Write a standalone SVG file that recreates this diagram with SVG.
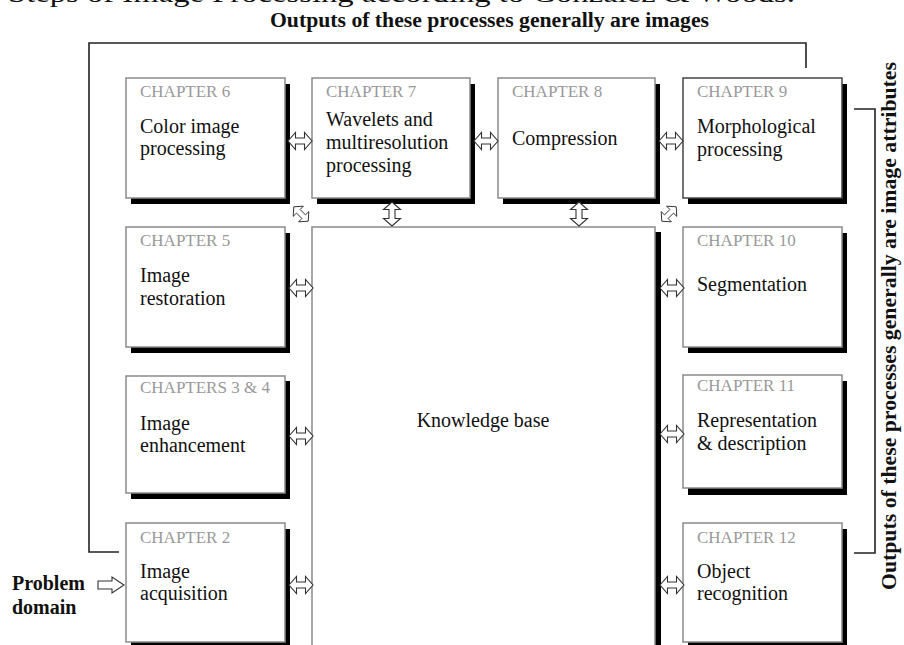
<svg xmlns="http://www.w3.org/2000/svg" xmlns:xlink="http://www.w3.org/1999/xlink" width="904" height="645" viewBox="0 0 904 645">
<style>
  text { font-family: "Liberation Serif", "Times New Roman", serif; }
  .box { fill: #ffffff; stroke: #8a8a8a; stroke-width: 1.5; }
  .shadow { fill: #000000; }
  .chap { font-size: 17px; fill: #999999; }
  .lbl { font-size: 20px; fill: #111111; }
  .bold { font-weight: bold; fill: #111111; }
  .line { fill: none; stroke: #222222; stroke-width: 1.6; }
  .arr { fill: #ffffff; stroke: #333333; stroke-width: 1.1; stroke-linejoin: miter; }
</style>
<defs>
  <path id="dbl" class="arr" d="M-12,0 L-4.5,-8.5 L-4.5,-3 L4.5,-3 L4.5,-8.5 L12,0 L4.5,8.5 L4.5,3 L-4.5,3 L-4.5,8.5 Z"/>
</defs>
<rect width="904" height="645" fill="#ffffff"/>

<text x="8" y="2" font-size="26" fill="#111111" textLength="787" lengthAdjust="spacingAndGlyphs">Steps of Image Processing according to Gonzalez &amp; Woods.</text>
<text class="bold" x="270" y="27" font-size="20" textLength="439" lengthAdjust="spacingAndGlyphs">Outputs of these processes generally are images</text>
<text class="bold" transform="translate(896,326) rotate(-90)" text-anchor="middle" font-size="20" textLength="528" lengthAdjust="spacingAndGlyphs">Outputs of these processes generally are image attributes</text>

<g id="problem-domain">
  <text class="bold" x="12" y="590" font-size="20">Problem</text>
  <text class="bold" x="12" y="614" font-size="20">domain</text>
</g>

<g id="knowledge-base">
  <rect class="shadow" x="317" y="232" width="344" height="415"/>
  <rect class="box" x="312" y="227" width="343" height="420"/>
  <text class="lbl" x="483" y="427" text-anchor="middle">Knowledge base</text>
</g>

<g id="ch6">
  <rect class="shadow" x="131" y="84" width="159" height="120"/>
  <rect class="box" x="126" y="78" width="159" height="120"/>
  <text class="chap" x="140" y="97">CHAPTER 6</text>
  <text class="lbl" x="140" y="133">Color image</text>
  <text class="lbl" x="140" y="155">processing</text>
</g>
<g id="ch7">
  <rect class="shadow" x="317" y="84" width="158" height="120"/>
  <rect class="box" x="312" y="78" width="158" height="120"/>
  <text class="chap" x="326" y="97">CHAPTER 7</text>
  <text class="lbl" x="326" y="126">Wavelets and</text>
  <text class="lbl" x="326" y="149">multiresolution</text>
  <text class="lbl" x="326" y="172">processing</text>
</g>
<g id="ch8">
  <rect class="shadow" x="503" y="84" width="157" height="120"/>
  <rect class="box" x="498" y="78" width="157" height="120"/>
  <text class="chap" x="512" y="97">CHAPTER 8</text>
  <text class="lbl" x="512" y="145">Compression</text>
</g>
<g id="ch9">
  <rect class="shadow" x="688" y="84" width="159" height="120"/>
  <rect class="box" x="683" y="78" width="159" height="120" style="stroke:#444444"/>
  <text class="chap" x="697" y="97">CHAPTER 9</text>
  <text class="lbl" x="697" y="133">Morphological</text>
  <text class="lbl" x="697" y="156">processing</text>
</g>
<g id="ch5">
  <rect class="shadow" x="131" y="233" width="159" height="120"/>
  <rect class="box" x="126" y="227" width="159" height="120"/>
  <text class="chap" x="140" y="246">CHAPTER 5</text>
  <text class="lbl" x="140" y="282">Image</text>
  <text class="lbl" x="140" y="305">restoration</text>
</g>
<g id="ch3-4">
  <rect class="shadow" x="131" y="381" width="159" height="118"/>
  <rect class="box" x="126" y="376" width="159" height="117"/>
  <text class="chap" x="140" y="393">CHAPTERS 3 &amp; 4</text>
  <text class="lbl" x="140" y="430">Image</text>
  <text class="lbl" x="140" y="452">enhancement</text>
</g>
<g id="ch2">
  <rect class="shadow" x="131" y="529" width="159" height="120"/>
  <rect class="box" x="126" y="523" width="159" height="119"/>
  <text class="chap" x="140" y="543">CHAPTER 2</text>
  <text class="lbl" x="140" y="578">Image</text>
  <text class="lbl" x="140" y="600">acquisition</text>
</g>
<g id="ch10">
  <rect class="shadow" x="688" y="233" width="159" height="120"/>
  <rect class="box" x="683" y="227" width="159" height="120"/>
  <text class="chap" x="697" y="246">CHAPTER 10</text>
  <text class="lbl" x="697" y="291">Segmentation</text>
</g>
<g id="ch11">
  <rect class="shadow" x="688" y="381" width="159" height="114"/>
  <rect class="box" x="683" y="375" width="159" height="113"/>
  <text class="chap" x="697" y="391">CHAPTER 11</text>
  <text class="lbl" x="697" y="427">Representation</text>
  <text class="lbl" x="697" y="450">&amp; description</text>
</g>
<g id="ch12">
  <rect class="shadow" x="688" y="529" width="159" height="120"/>
  <rect class="box" x="683" y="523" width="159" height="119"/>
  <text class="chap" x="697" y="543">CHAPTER 12</text>
  <text class="lbl" x="697" y="578">Object</text>
  <text class="lbl" x="697" y="600">recognition</text>
</g>

<g id="connectors">
  <path class="line" d="M119,552 H89 V43 H806 V68"/>
  <path class="line" d="M854,109 H875 V553 H854"/>
  <path class="arr" d="M98,581 H112 V577 L124,585 L112,593 V589 H98 Z"/>
  <use xlink:href="#dbl" href="#dbl" transform="translate(300,141)"/>
  <use xlink:href="#dbl" href="#dbl" transform="translate(486,141)"/>
  <use xlink:href="#dbl" href="#dbl" transform="translate(671,141)"/>
  <use xlink:href="#dbl" href="#dbl" transform="translate(301,288)"/>
  <use xlink:href="#dbl" href="#dbl" transform="translate(301,436)"/>
  <use xlink:href="#dbl" href="#dbl" transform="translate(301,585)"/>
  <use xlink:href="#dbl" href="#dbl" transform="translate(672,288)"/>
  <use xlink:href="#dbl" href="#dbl" transform="translate(672,434)"/>
  <use xlink:href="#dbl" href="#dbl" transform="translate(672,585)"/>
  <use xlink:href="#dbl" href="#dbl" transform="translate(392,214) rotate(90)"/>
  <use xlink:href="#dbl" href="#dbl" transform="translate(579,214) rotate(90)"/>
  <use xlink:href="#dbl" href="#dbl" transform="translate(301,214) rotate(45) scale(0.85)"/>
  <use xlink:href="#dbl" href="#dbl" transform="translate(669,214) rotate(-45) scale(0.85)"/>
</g>
</svg>
